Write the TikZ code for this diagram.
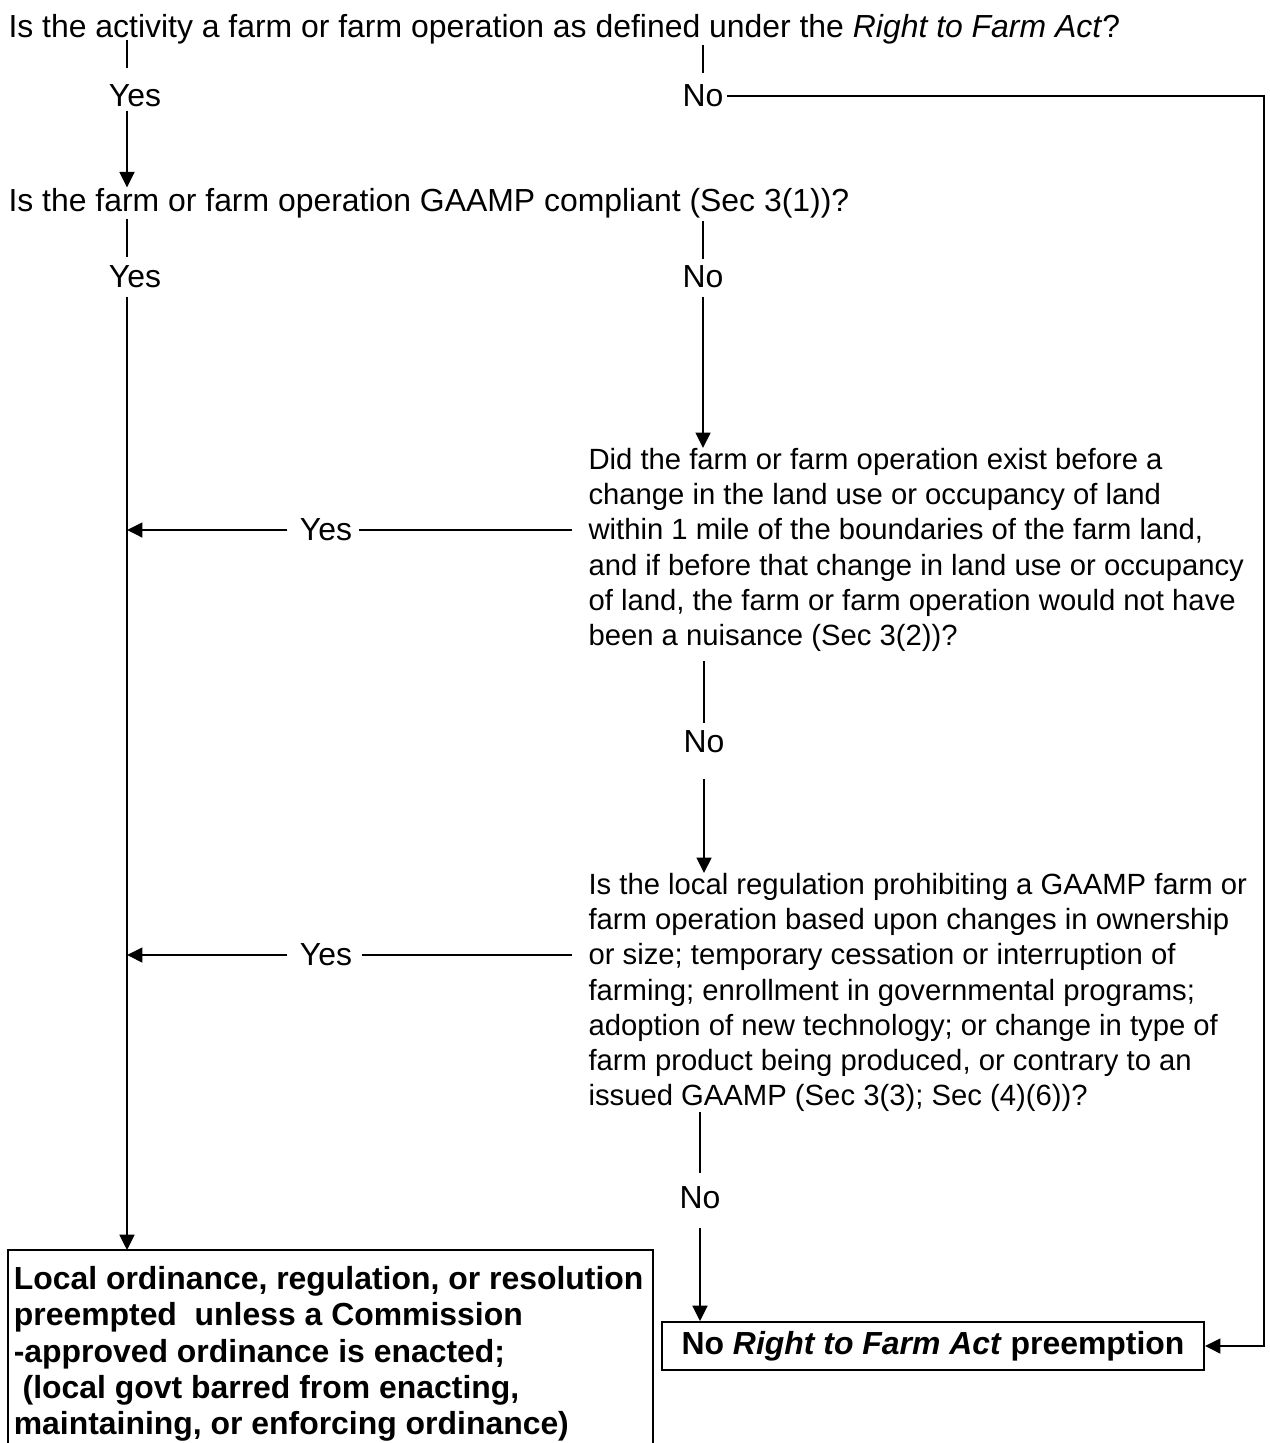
\documentclass[tikz,border=0pt]{standalone}
\usepackage{fontspec}
\setmainfont{Liberation Sans}
\usetikzlibrary{arrows.meta,positioning}
\tikzset{
  txt/.style={inner sep=0pt, font=\fontsize{12}{13.2}\selectfont},
  para/.style={inner sep=0pt, font=\fontsize{11}{13.2}\selectfont, align=left, anchor=north west},
  ans/.style={txt},
  res/.style={inner sep=0pt, font=\fontsize{12}{13.6}\selectfont\bfseries},
  flow/.style={line width=0.75pt},
  arr/.style={flow, -{Triangle[length=5.8pt,width=5.6pt]}}
}
\begin{document}
\begin{tikzpicture}[x=0.376pt, y=-0.376pt]
\useasboundingbox (0,0) rectangle (1270,1443);
% columns and edges
\coordinate (L) at (127,0);
\coordinate (E) at (1264,0);
\coordinate (lr) at (653,0);
\coordinate (bot) at (0,1443);

% questions
\node[txt, anchor=base west] (q1) at (8,38) {Is the activity a farm or farm operation as defined under the \textit{Right to Farm Act}?};
\node[txt, anchor=base west] (q2) at (8,211) {Is the farm or farm operation GAAMP compliant (Sec 3(1))?};
\node[para] (q3) at (588,448) {Did the farm or farm operation exist before a\\
change in the land use or occupancy of land\\
within 1 mile of the boundaries of the farm land,\\
and if before that change in land use or occupancy\\
of land, the farm or farm operation would not have\\
been a nuisance (Sec 3(2))?};
\node[para] (q4) at (588,873) {Is the local regulation prohibiting a GAAMP farm or\\
farm operation based upon changes in ownership\\
or size; temporary cessation or interruption of\\
farming; enrollment in governmental programs;\\
adoption of new technology; or change in type of\\
farm product being produced, or contrary to an\\
issued GAAMP (Sec 3(3); Sec (4)(6))?};

% answers
\node[ans] (yes1) at (135,96) {Yes};
\node[ans] (no1) at (703,96) {No};
\node[ans] (yes2) at (135,277) {Yes};
\node[ans] (no2) at (703,277) {No};
\node[ans] (yes3) at (326,530) {Yes};
\node[ans] (no3) at (704,742) {No};
\node[ans] (yes4) at (326,955) {Yes};
\node[ans] (no4) at (700,1198) {No};

% results
\node[res, draw, line width=0.75pt, minimum width=203.8pt, minimum height=18pt] (rbox) at (933,1346) {No \textit{Right to Farm Act} preemption};
\node[res, align=left, anchor=north west, inner xsep=2pt] (lbox) at (8,1266) {Local ordinance, regulation, or resolution\\
preempted\ \ unless a Commission\\
-approved ordinance is enacted;\\
\mbox{}\ (local govt barred from enacting,\\
maintaining, or enforcing ordinance)};
\coordinate (ltop) at ([yshift=6pt]lbox.north);
\draw[flow] (lbox.west |- bot) |- (lr |- ltop) -- (lr |- bot);

% first question
\draw[flow] (L |- q1.base) ++(0,2) -- ++(0,28);
\draw[flow] (no1 |- q1.base) ++(0,7) -- ++(0,28);
\draw[arr] (L |- yes1.south) ++(0,3) -- (L |- q2.north);
\draw[arr] (no1.east) ++(3,0) -- (E |- no1) |- (rbox.east);

% second question
\draw[flow] (L |- q2.base) ++(0,8) -- ++(0,38);
\draw[flow] (no2 |- q2.base) ++(0,10) -- ++(0,38);
\draw[arr] (L |- yes2.south) ++(0,8) -- (L |- ltop);
\draw[arr] (no2.south) ++(0,8) -- (no2 |- q3.north);

% third question
\draw[flow, shorten >=2.3pt] (q3.west |- yes3) ++(-16,0) -- (yes3.east);
\draw[arr] (yes3.west) ++(-12,0) -- (L |- yes3);
\draw[flow] (no3 |- q3.south) ++(0,9) -- ++(0,62);
\draw[arr] (no3.south) ++(0,25) -- (no3 |- q4.north);

% fourth question
\draw[flow, shorten >=3.5pt] (q4.west |- yes4) ++(-16,0) -- (yes4.east);
\draw[arr] (yes4.west) ++(-12,0) -- (L |- yes4);
\draw[flow] (no4 |- q4.south) ++(0,0) -- ++(0,61);
\draw[arr] (no4.south) ++(0,18) -- (rbox.north -| no4);
\end{tikzpicture}
\end{document}
